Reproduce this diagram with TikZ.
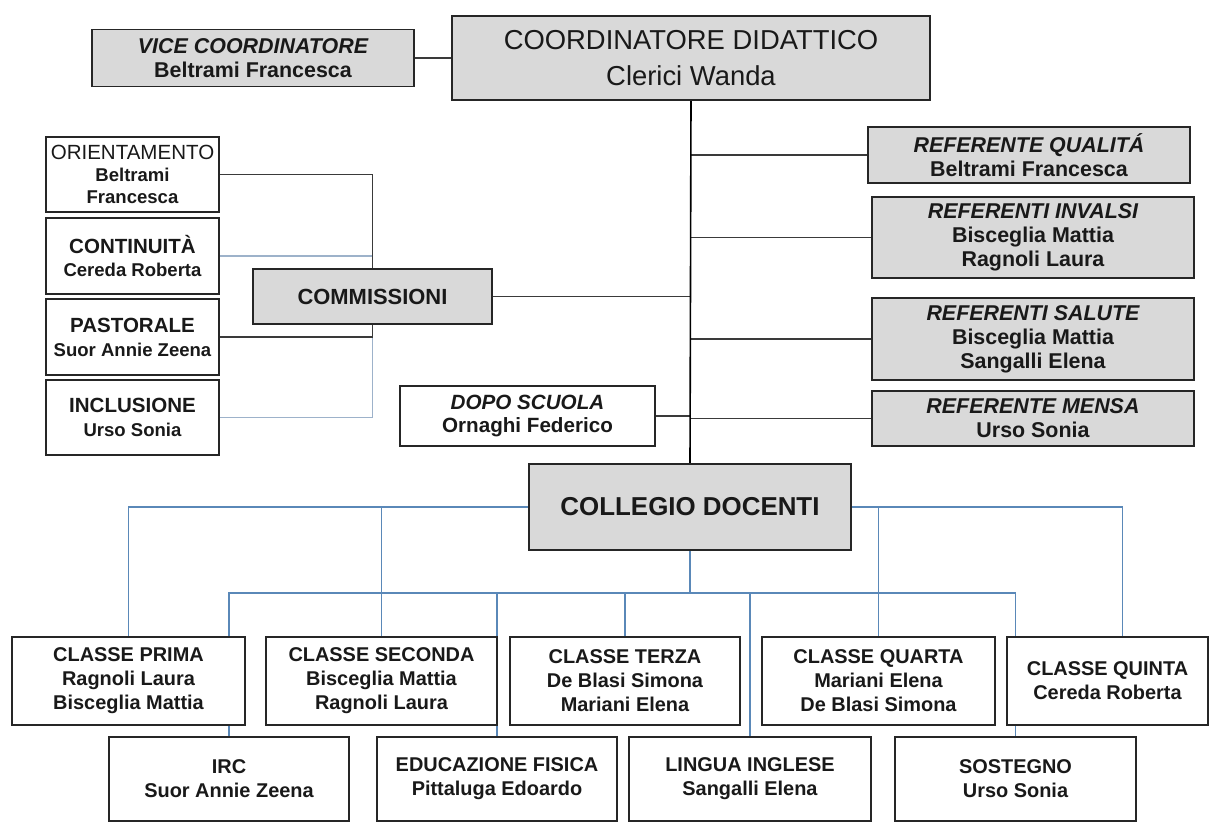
\documentclass[tikz,border=0pt]{standalone}
\usepackage{fontspec}
\setmainfont{Liberation Sans}
\usepackage{tikz}
\usetikzlibrary{backgrounds}

\definecolor{boxgray}{HTML}{D9D9D9}
\definecolor{boxline}{HTML}{262626}
\definecolor{linkblue}{HTML}{5A88B8}
\definecolor{linkpale}{HTML}{9DB2CA}
\definecolor{linkdark}{HTML}{3A3A3A}

\tikzset{
    orgbox/.style={draw=boxline, line width=1.1bp, rectangle, inner sep=0pt, align=center, text=black!90},
    graybox/.style={orgbox, fill=boxgray},
    whitebox/.style={orgbox, fill=white},
    hv/.style={to path={-| (\tikztotarget)}},
}

\begin{document}
\begin{tikzpicture}[x=1bp, y=-1bp]
            \useasboundingbox (0,0) rectangle (1224,823);

            \begin{scope}[every node/.style={graybox, font=\bfseries\fontsize{21.5}{24}\selectfont}]
                \node[minimum width=478bp, minimum height=84bp, font=\fontsize{27.5}{36}\selectfont] (coord) at (691,58) {COORDINATORE DIDATTICO\\Clerici Wanda};
                \node[minimum width=322bp, minimum height=57bp] (vice) at (253,58) {{\itshape VICE COORDINATORE}\\Beltrami Francesca};
                \node[minimum width=322bp, minimum height=56bp] (qual) at (1029,155) {{\itshape REFERENTE QUALITÁ}\\Beltrami Francesca};
                \node[minimum width=322bp, minimum height=81bp] (inval) at (1033,237.5) {{\itshape REFERENTI INVALSI}\\Bisceglia Mattia\\Ragnoli Laura};
                \node[minimum width=322bp, minimum height=82bp] (salute) at (1033,339) {{\itshape REFERENTI SALUTE}\\Bisceglia Mattia\\Sangalli Elena};
                \node[minimum width=322bp, minimum height=55bp] (mensa) at (1033,418.5) {{\itshape REFERENTE MENSA}\\Urso Sonia};
                \node[minimum width=239bp, minimum height=55bp, font=\bfseries\fontsize{22}{24}\selectfont] (comm) at (372.5,296.5) {COMMISSIONI};
                \node[minimum width=322bp, minimum height=86bp, font=\bfseries\fontsize{26}{30}\selectfont] (coll) at (690,507) {COLLEGIO DOCENTI};
            \end{scope}

            \begin{scope}[every node/.style={whitebox, minimum width=173bp, font=\bfseries\fontsize{18.6}{22}\selectfont}]
                \node[minimum height=75bp] (orient) at (132.5,174.5) {{\mdseries\fontsize{20.6}{23}\selectfont ORIENTAMENTO}\\Beltrami\\Francesca};
                \node[minimum height=76bp] (contin) at (132.5,256) {{\fontsize{20.6}{23}\selectfont CONTINUITÀ}\\[2bp]Cereda Roberta};
                \node[minimum height=76bp] (past) at (132.5,337) {{\fontsize{20.6}{23}\selectfont PASTORALE}\\[2bp]Suor Annie Zeena};
                \node[minimum height=75bp] (incl) at (132.5,417.5) {{\fontsize{20.6}{23}\selectfont INCLUSIONE}\\[2bp]Urso Sonia};
            \end{scope}

            \begin{scope}[every node/.style={whitebox, font=\bfseries\fontsize{20}{24}\selectfont}]
                \node[minimum width=255bp, minimum height=60bp, font=\bfseries\fontsize{20.7}{23}\selectfont] (dopo) at (527.5,416) {{\itshape DOPO SCUOLA}\\Ornaghi Federico};
                \node[minimum width=233bp, minimum height=88bp] (prima) at (128.5,681) {CLASSE PRIMA\\Ragnoli Laura\\Bisceglia Mattia};
                \node[minimum width=231bp, minimum height=88bp] (seconda) at (381.5,681) {CLASSE SECONDA\\Bisceglia Mattia\\Ragnoli Laura};
                \node[minimum width=230bp, minimum height=88bp] (terza) at (625,681) {CLASSE TERZA\\De Blasi Simona\\Mariani Elena};
                \node[minimum width=233bp, minimum height=88bp] (quarta) at (878.5,681) {CLASSE QUARTA\\Mariani Elena\\De Blasi Simona};
                \node[minimum width=201bp, minimum height=88bp] (quinta) at (1107.5,681) {CLASSE QUINTA\\Cereda Roberta};
                \node[minimum width=240bp, minimum height=84bp] (irc) at (229,779) {IRC\\Suor Annie Zeena};
                \node[minimum width=240bp, minimum height=84bp] (edfis) at (497,779) {EDUCAZIONE FISICA\\Pittaluga Edoardo};
                \node[minimum width=242bp, minimum height=84bp] (ingl) at (750,779) {LINGUA INGLESE\\Sangalli Elena};
                \node[minimum width=241bp, minimum height=84bp] (sost) at (1015.5,779) {SOSTEGNO\\Urso Sonia};
            \end{scope}

            \begin{scope}[on background layer]
                \begin{scope}[every edge/.style={draw=linkpale, line width=1.3bp}]
                    \path [-] (contin.east) edge[hv] (comm.north);
                    \path [-] (incl.east) edge[hv] (comm.south);
                \end{scope}

                \begin{scope}[every edge/.style={draw=linkdark, line width=1.3bp}]
                    \path [-] (vice.east) edge (coord.west);
                    \path [-] (orient.east) edge[hv] (comm.north);
                    \path [-] (past.east) edge[hv] (comm.south);
                    \path [-] (comm.east) edge (comm.east -| coord.south);
                    \path [-] (dopo.east) edge (dopo.east -| coord.south);
                    \path [-] (qual.west) edge (qual.west -| coord.south);
                    \path [-] (inval.west) edge (inval.west -| coord.south);
                    \path [-] (salute.west) edge (salute.west -| coord.south);
                    \path [-] (mensa.west) edge (mensa.west -| coord.south);
                \end{scope}

                \begin{scope}[every edge/.style={draw=black, line width=1.6bp}]
                    \path [-] (coord.south) edge (coll.north);
                \end{scope}

                \begin{scope}[every edge/.style={draw=linkblue, line width=1.2bp}]
                    \coordinate (bus) at (690,593);
                    \path [-] (coll.west) edge[hv] (prima.north);
                    \path [-] (coll.west) edge[hv] (seconda.north);
                    \path [-] (coll.east) edge[hv] (quarta.north);
                    \path [-] (coll.east) edge[hv] ([xshift=15bp]quinta.north);
                    \path [-] (coll.south) edge (bus);
                    \path [-] (bus) edge[hv] (irc.north);
                    \path [-] (bus) edge[hv] (edfis.north);
                    \path [-] (bus) edge[hv] (terza.north);
                    \path [-] (bus) edge[hv] (ingl.north);
                    \path [-] (bus) edge[hv] (sost.north);
                \end{scope}
            \end{scope}
        \end{tikzpicture}
\end{document}
